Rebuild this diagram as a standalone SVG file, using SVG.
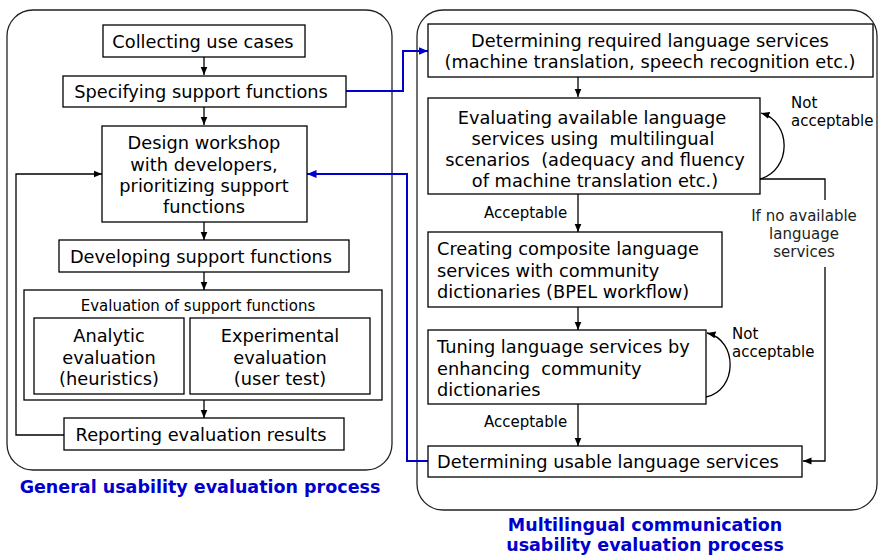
<svg xmlns="http://www.w3.org/2000/svg" width="879" height="556" viewBox="0 0 879 556">
<style>
text{font-family:"DejaVu Sans","Noto Sans",sans-serif;fill:#000}
.m{font-size:17.8px}
.s{font-size:15px}
.c{text-anchor:middle}
.t{font-size:17.5px;font-weight:bold;fill:#0000CC;text-anchor:middle}
.box{fill:#fff;stroke:#000;stroke-width:1.3}
.panel{fill:#fff;stroke:#222;stroke-width:1.3}
.ln{fill:none;stroke:#000;stroke-width:1.3}
.bl{fill:none;stroke:#0000CC;stroke-width:2}
.g{fill:#222}
</style>
<defs>
<marker id="a" markerUnits="userSpaceOnUse" markerWidth="9" markerHeight="8" refX="8.5" refY="4" orient="auto"><path d="M0,0.5 L8.5,4 L0,7.5 z" fill="#000"/></marker>
<marker id="b" markerUnits="userSpaceOnUse" markerWidth="10" markerHeight="9" refX="9.5" refY="4.5" orient="auto"><path d="M0,0.5 L9.5,4.5 L0,8.5 z" fill="#0000CC"/></marker>
</defs>
<rect class="panel" x="7" y="10" width="385" height="460" rx="26"/>
<rect class="panel" x="417" y="10" width="460" height="500" rx="26"/>
<g id="connectors">
<path class="ln" d="M204 57 V75" marker-end="url(#a)"/>
<path class="ln" d="M204 107 V125" marker-end="url(#a)"/>
<path class="ln" d="M204 222 V240" marker-end="url(#a)"/>
<path class="ln" d="M204 272 V290" marker-end="url(#a)"/>
<path class="ln" d="M204 400 V418" marker-end="url(#a)"/>
<path class="ln" d="M64 435 H16 V174 H102" marker-end="url(#a)"/>
<path class="bl" d="M346 91 H403 V51 H428" marker-end="url(#b)"/>
<path class="bl" d="M428 461 H407 V174 H307" marker-end="url(#b)"/>
<path class="ln" d="M578 77 V97" marker-end="url(#a)"/>
<path class="ln" d="M578 194 V232" marker-end="url(#a)"/>
<path class="ln" d="M578 307 V330" marker-end="url(#a)"/>
<path class="ln" d="M578 404 V446" marker-end="url(#a)"/>
<path class="ln" d="M760 179 C792 170 792 122 761 113" marker-end="url(#a)"/>
<path class="ln" d="M760 179 H825 V200"/>
<path class="ln" d="M825 267 V461 H803" marker-end="url(#a)"/>
<path class="ln" d="M706 397 C738 390 738 340 707 333" marker-end="url(#a)"/>
<text class="s" x="484" y="218">Acceptable</text>
<text class="s" x="484" y="427">Acceptable</text>
<text class="s" x="791" y="108">Not</text>
<text class="s" x="791" y="126">acceptable</text>
<text class="s" x="732" y="339">Not</text>
<text class="s" x="732" y="357">acceptable</text>
<text class="s c g" x="804" y="221">If no available</text>
<text class="s c g" x="804" y="239">language</text>
<text class="s c g" x="804" y="257">services</text>
</g>
<g id="n1"><rect class="box" x="103" y="25" width="202" height="32"/><text class="m c" x="203" y="48">Collecting use cases</text></g>
<g id="n2"><rect class="box" x="63" y="76" width="283" height="31"/><text class="m c" x="201" y="98">Specifying support functions</text></g>
<g id="n3"><rect class="box" x="102" y="126" width="205" height="96"/>
<text class="m c" x="204" y="149">Design workshop</text>
<text class="m c" x="204" y="170.5">with developers,</text>
<text class="m c" x="204" y="192">prioritizing support</text>
<text class="m c" x="204" y="213">functions</text></g>
<g id="n4"><rect class="box" x="59" y="240" width="290" height="32"/><text class="m c" x="201" y="263">Developing support functions</text></g>
<g id="n5"><rect class="box" x="24" y="290" width="358" height="110"/><text class="s c" x="198" y="311">Evaluation of support functions</text></g>
<g id="n6"><rect class="box" x="34" y="318" width="150" height="76"/>
<text class="m c" x="109" y="342">Analytic</text>
<text class="m c" x="109" y="363.5">evaluation</text>
<text class="m c" x="109" y="385">(heuristics)</text></g>
<g id="n7"><rect class="box" x="190" y="318" width="180" height="76"/>
<text class="m c" x="280" y="342">Experimental</text>
<text class="m c" x="280" y="363.5">evaluation</text>
<text class="m c" x="280" y="385">(user test)</text></g>
<g id="n8"><rect class="box" x="64" y="418" width="280" height="32"/><text class="m c" x="201" y="441">Reporting evaluation results</text></g>
<g id="n9"><rect class="box" x="428" y="24" width="445" height="53"/>
<text class="m c" x="650" y="47">Determining required language services</text>
<text class="m c" x="650" y="68">(machine translation, speech recognition etc.)</text></g>
<g id="n10"><rect class="box" x="428" y="98" width="332" height="96"/>
<text class="m c" x="592" y="124">Evaluating available language</text>
<text class="m c" x="593" y="145" xml:space="preserve">services using  multilingual</text>
<text class="m c" x="595" y="166" xml:space="preserve">scenarios  (adequacy and fluency</text>
<text class="m c" x="595" y="187">of machine translation etc.)</text></g>
<g id="n11"><rect class="box" x="428" y="232" width="294" height="75"/>
<text class="m" x="437" y="254.5">Creating composite language</text>
<text class="m" x="437" y="276.5">services with community</text>
<text class="m" x="437" y="298">dictionaries (BPEL workflow)</text></g>
<g id="n12"><rect class="box" x="428" y="330" width="278" height="74"/>
<text class="m" x="437" y="353">Tuning language services by</text>
<text class="m" x="437" y="375" xml:space="preserve">enhancing  community</text>
<text class="m" x="437" y="396">dictionaries</text></g>
<g id="n13"><rect class="box" x="428" y="446" width="374" height="31"/><text class="m" x="437" y="468">Determining usable language services</text></g>
<text class="t" x="200" y="493">General usability evaluation process</text>
<text class="t" x="645" y="531">Multilingual communication</text>
<text class="t" x="645" y="551">usability evaluation process</text>
</svg>
